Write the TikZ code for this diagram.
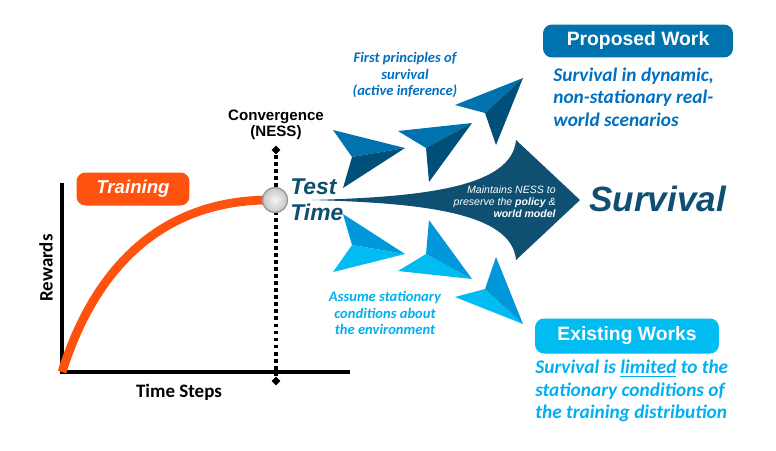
\documentclass[tikz,border=0pt]{standalone}
\usepackage{fontspec}
\setmainfont{Liberation Sans}
\newfontfamily\calibfont{Carlito}
\usetikzlibrary{shapes.geometric}
\definecolor{orng}{HTML}{FF520F}
\definecolor{navy}{HTML}{0E4F72}
\definecolor{pblue}{HTML}{0072AE}
\definecolor{pdark}{HTML}{004F78}
\definecolor{lblue}{HTML}{0098D8}
\definecolor{lcyan}{HTML}{00BCF0}
\definecolor{ptext}{HTML}{0070C0}
\definecolor{ltext}{HTML}{00B0F0}
\newcommand{\dart}[6]{\fill[#5] #1 -- #2 -- #4 -- cycle; \fill[#6] #4 -- #2 -- #3 -- cycle;}
\tikzset{
  axisline/.style={line width=1.8pt},
  dotline/.style={line width=2.2pt,dash pattern=on 2.2pt off 1.8pt},
  dia/.style={diamond,fill=black,inner sep=0pt,minimum size=0.18cm},
  tagbox/.style={rounded corners=0.18cm,text=white,font=\bfseries\fontsize{11}{13}\selectfont,minimum height=0.66cm},
  note/.style={font=\calibfont\bfseries\itshape\fontsize{8.3}{9.6}\selectfont,align=center,inner sep=0pt},
  side/.style={font=\calibfont\bfseries\itshape\fontsize{11}{12.8}\selectfont,align=left,inner sep=0pt,anchor=west},
}
\begin{document}
\begin{tikzpicture}[x=0.02cm,y=-0.02cm]
\useasboundingbox (0,0) rectangle (776,450);
% reward curve
\node[dia] (dtop) at (276,150) {};
\node[dia] (dbot) at (276,381) {};
\draw[dotline] (dtop) -- (dbot);
\draw[axisline] (62,183) -- (62,372) -- (350,372);
\draw[orng,line width=5pt] (62,372) .. controls (98,258) and (170,200) .. (270,200);
\node[circle,draw=gray!80,line width=0.8pt,inner color=gray!8,outer color=gray!45,minimum size=0.5cm] (ness) at (275,200) {};
\node[font=\bfseries\fontsize{8.6}{9.1}\selectfont,align=center] (conv) at (276,125) {Convergence\\(NESS)};
\node[tagbox,fill=orng,minimum width=2.26cm,font=\bfseries\itshape\fontsize{10.6}{12}\selectfont] (train) at (133,189) {Training};
\node[font=\calibfont\bfseries\fontsize{10.8}{12}\selectfont,rotate=90] (rew) at (46,268) {Rewards};
\node[font=\calibfont\bfseries\fontsize{10.8}{12}\selectfont] (tsteps) at (179,392) {Time Steps};
% test time darts
\fill[navy] (312,200) .. controls (420,197) and (512,188) .. (516,140) -- (580,200) -- (516,260) .. controls (512,212) and (420,203) .. (312,200) -- cycle;
\dart{(333,130)}{(405,148)}{(343,188)}{(352,157)}{pblue}{pdark}
\dart{(398,131)}{(472,123)}{(429,182)}{(426,148)}{pblue}{pdark}
\dart{(455,105)}{(523,78)}{(496,145)}{(485,113)}{pblue}{pdark}
\dart{(333,272)}{(405,254)}{(343,214)}{(352,245)}{lcyan}{lblue}
\dart{(398,271)}{(472,279)}{(429,220)}{(426,254)}{lcyan}{lblue}
\dart{(455,297)}{(523,324)}{(496,257)}{(485,289)}{lcyan}{lblue}
\node[navy,font=\bfseries\itshape\fontsize{13}{14.7}\selectfont,align=left,anchor=west,inner sep=0pt] (test) at (290,200) {Test\\Time};
\node[white,font=\itshape\fontsize{6}{6.8}\selectfont,align=right,anchor=east,inner sep=0pt] (keep) at (556,202) {Maintains NESS to\\preserve the \textbf{policy} \&\\\textbf{world model}};
\node[navy,font=\bfseries\itshape\fontsize{20}{24}\selectfont,anchor=west,inner sep=0pt] (surv) at (589,199) {Survival};
\node[note,ptext] (fp) at (405,75) {First principles of\\survival\\(active inference)};
\node[note,ltext] (assume) at (385,313) {Assume stationary\\conditions about\\the environment};
% outcomes
\node[tagbox,fill=pblue,minimum width=3.8cm] (prop) at (638,41) {Proposed Work};
\node[side,ptext] (proptext) at (553,97) {Survival in dynamic,\\non-stationary real-\\world scenarios};
\node[tagbox,fill=lcyan,minimum width=3.68cm,minimum height=0.7cm] (exist) at (627,336) {Existing Works};
\node[side,ltext] (existtext) at (535,391) {Survival is \underline{limited} to the\\stationary conditions of\\the training distribution};
\end{tikzpicture}
\end{document}
